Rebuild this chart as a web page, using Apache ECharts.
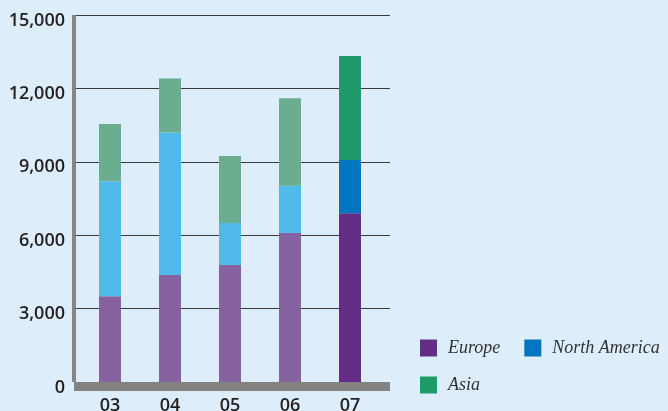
<!DOCTYPE html>
<html>
<head>
<meta charset="utf-8">
<script src="https://cdn.jsdelivr.net/npm/echarts@6/dist/echarts.min.js"></script>
<style>
  html, body { margin: 0; padding: 0; background: #ddeefa; }
  #chart { width: 668px; height: 411px; }
</style>
</head>
<body>
<div id="chart"></div>
<script>
var years = ["03", "04", "05", "06", "07"];
var europe = [3500, 4370, 4780, 6090, 6900];
var northAmerica = [4700, 5830, 1720, 1930, 2170];
var asia = [2350, 2200, 2740, 3580, 4250];
var yTicks = [0, 3000, 6000, 9000, 12000, 15000];

// past years are drawn in the paler tint, the latest year in full colour
var seriesStyle = [
  { name: "Europe", data: europe, color: "#632c85", pale: "#8762a0" },
  { name: "North America", data: northAmerica, color: "#0076c0", pale: "#50bbea" },
  { name: "Asia", data: asia, color: "#1e9a6b", pale: "#6aae8f" }
];

var series = seriesStyle.map(function (s) {
  return {
    name: s.name,
    type: "bar",
    stack: "total",
    xAxisIndex: 1,
    yAxisIndex: 1,
    barWidth: 22,
    itemStyle: { color: s.color },
    data: s.data.map(function (v, i) {
      if (i === s.data.length - 1) return v;
      return { value: v, itemStyle: { color: s.pale } };
    })
  };
});

var legendText = {
  fontFamily: "Liberation Serif",
  fontStyle: "italic",
  fontSize: 18,
  color: "#333",
  padding: [0, 0, 0, 6]
};

var labelFont = {
  fontFamily: "Open Sans",
  fontWeight: 600,
  fontSize: 18,
  color: "#231f20"
};

var option = {
  backgroundColor: "#ddeefa",
  animation: false,
  grid: [
    { left: 74, top: 15, width: 316, bottom: 29, outerBoundsMode: "none" },
    { left: 80, top: 15, width: 300, bottom: 29, outerBoundsMode: "none" }
  ],
  legend: [
    {
      left: 415, top: 334,
      itemWidth: 17, itemHeight: 17, itemGap: 24,
      icon: "rect",
      textStyle: legendText,
      data: ["Europe", "North America"]
    },
    {
      left: 415, top: 371,
      itemWidth: 17, itemHeight: 17,
      icon: "rect",
      textStyle: legendText,
      data: ["Asia"]
    }
  ],
  xAxis: [
    {
      gridIndex: 0,
      type: "value",
      min: 0, max: 1,
      offset: 4.5,
      axisLine: { show: true, onZero: false, lineStyle: { color: "#828282", width: 9, cap: "butt" } },
      axisTick: { show: false },
      axisLabel: { show: false },
      splitLine: { show: false }
    },
    {
      gridIndex: 1,
      type: "category",
      data: years,
      axisLine: { show: false },
      axisTick: { show: false },
      axisLabel: Object.assign({ margin: 15 }, labelFont)
    }
  ],
  yAxis: [
    {
      gridIndex: 0,
      type: "value",
      min: yTicks[0],
      max: yTicks[yTicks.length - 1],
      interval: yTicks[1] - yTicks[0],
      axisLine: { show: true, lineStyle: { color: "#858585", width: 4, cap: "butt" } },
      axisTick: { show: false },
      axisLabel: {
        margin: 9,
        formatter: function (v) { return "{t|" + v.toLocaleString("en-US") + "}"; },
        rich: { t: Object.assign({ padding: [11, 0, 0, 0] }, labelFont) }
      },
      splitLine: { show: true, lineStyle: { color: "#3a3a3a", width: 1 } }
    },
    {
      gridIndex: 1,
      type: "value",
      min: yTicks[0],
      max: yTicks[yTicks.length - 1],
      show: false,
      splitLine: { show: false }
    }
  ],
  series: series
};

var myChart = echarts.init(document.getElementById("chart"));
myChart.setOption(option);
</script>
</body>
</html>
